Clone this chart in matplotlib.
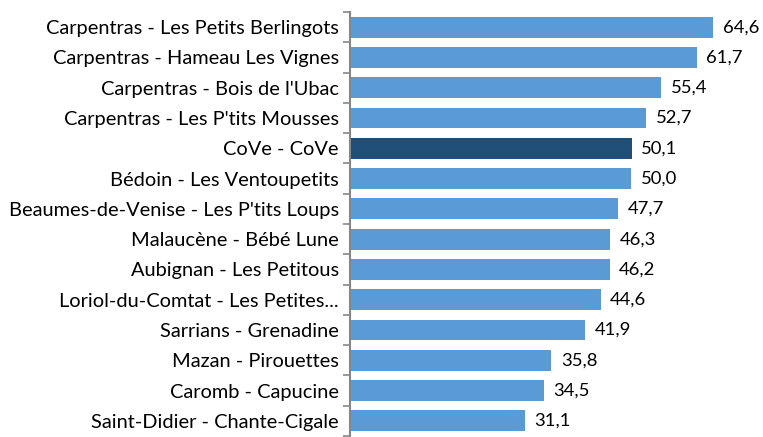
import matplotlib
matplotlib.use("Agg")
import matplotlib.pyplot as plt
import numpy as np

plt.rcParams['font.family'] = ['Lato', 'DejaVu Sans']

labels = [
    "Carpentras - Les Petits Berlingots",
    "Carpentras - Hameau Les Vignes",
    "Carpentras - Bois de l'Ubac",
    "Carpentras - Les P'tits Mousses",
    "CoVe - CoVe",
    "Bédoin - Les Ventoupetits",
    "Beaumes-de-Venise - Les P'tits Loups",
    "Malaucène - Bébé Lune",
    "Aubignan - Les Petitous",
    "Loriol-du-Comtat - Les Petites...",
    "Sarrians - Grenadine",
    "Mazan - Pirouettes",
    "Caromb - Capucine",
    "Saint-Didier - Chante-Cigale",
]
values = [64.6, 61.7, 55.4, 52.7, 50.1, 50.0, 47.7, 46.3, 46.2, 44.6, 41.9, 35.8, 34.5, 31.1]
highlight = "CoVe - CoVe"

light = "#5B9BD5"
dark = "#1F4E79"
colors = [dark if l == highlight else light for l in labels]

fig = plt.figure(figsize=(7.63, 4.37), dpi=100)
ax = fig.add_axes([350 / 763, 1 / 437, 413 / 763, 424 / 437])

y = np.arange(len(labels))
ax.barh(y, values, height=0.69, color=colors, zorder=2)
ax.set_xlim(0, 413 / 5.62)
ax.set_ylim(len(labels) - 0.5, -0.5)

# étiquettes de valeurs (virgule décimale)
for yi, v in zip(y, values):
    ax.text(v + 1.7, yi, f"{v:.1f}".replace(".", ","), va="center", ha="left",
            fontsize=13.3, color="#000000")

ax.set_yticks(y)
ax.set_yticklabels(labels, fontsize=14.4)
ax.tick_params(axis="y", which="major", length=0, pad=8)
ax.set_yticks(np.arange(-0.5, len(labels) + 0.5, 1), minor=True)
ax.tick_params(axis="y", which="minor", length=5, width=1.2, color="#868686")
ax.set_xticks([])

for s in ["top", "right", "bottom"]:
    ax.spines[s].set_visible(False)
ax.spines["left"].set_color("#868686")
ax.spines["left"].set_linewidth(1.5)

fig.savefig("out.png", dpi=100)
